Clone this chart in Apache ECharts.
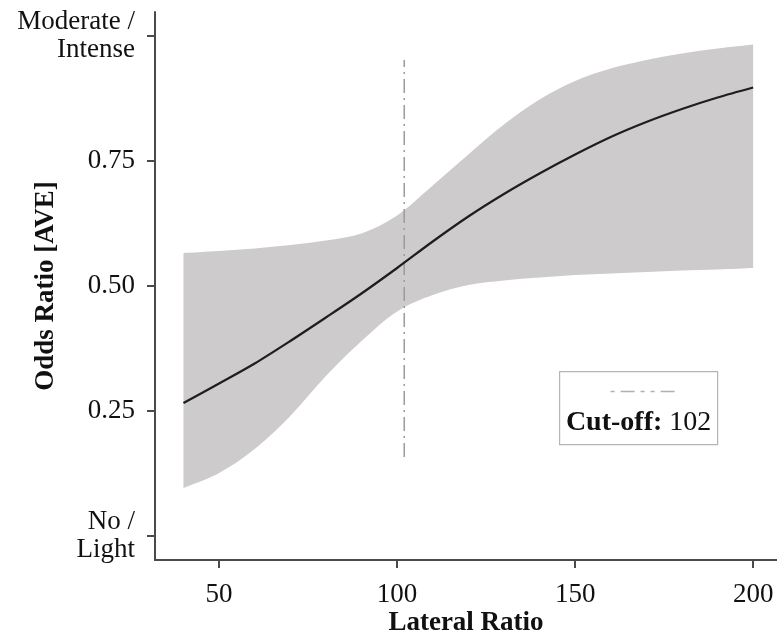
<!DOCTYPE html>
<html>
<head>
<meta charset="utf-8">
<script src="https://cdn.jsdelivr.net/npm/echarts@6/dist/echarts.min.js"></script>
<style>
  html, body { margin: 0; padding: 0; background: #fff; }
  #main { width: 777px; height: 636px; }
</style>
</head>
<body>
<div id="main"></div>
<script>
// data
var lateralRatio = [40, 50, 60, 70, 80, 90, 100, 110, 120, 130, 140, 150, 160, 170, 180, 190, 200];
var oddsRatio    = [0.265, 0.304, 0.344, 0.389, 0.436, 0.484, 0.535, 0.588, 0.638, 0.683, 0.724, 0.762, 0.797, 0.827, 0.853, 0.876, 0.896];
var upperBand    = [0.565, 0.569, 0.574, 0.581, 0.590, 0.604, 0.640, 0.700, 0.762, 0.822, 0.872, 0.909, 0.934, 0.951, 0.964, 0.974, 0.982];
var lowerBand    = [0.095, 0.125, 0.173, 0.239, 0.319, 0.389, 0.448, 0.481, 0.501, 0.510, 0.516, 0.521, 0.524, 0.527, 0.530, 0.532, 0.535];
var cutoff = 102;
var cutoffSpan = [0.157, 0.951];
var xTicks = [50, 100, 150, 200];
var yTicks = [0, 0.25, 0.5, 0.75, 1];
var yTickLabels = ['No /\nLight', '0.25', '0.50', '0.75', 'Moderate /\nIntense'];

var FONT = '"Liberation Serif", "DejaVu Serif", serif';
var AXIS_COLOR = '#4a4a4a';

var myChart = echarts.init(document.getElementById('main'));

var curveData = lateralRatio.map(function (x, i) { return [x, oddsRatio[i]]; });
var cutoffData = cutoffSpan.map(function (y) { return [cutoff, y]; });

// smooth path through pixel points (catmull-rom -> bezier), drawing only
function smoothPath(pts, moveFirst) {
  var d = (moveFirst ? 'M' : 'L') + pts[0][0] + ' ' + pts[0][1];
  for (var i = 0; i < pts.length - 1; i++) {
    var p0 = pts[i - 1] || pts[i];
    var p1 = pts[i];
    var p2 = pts[i + 1];
    var p3 = pts[i + 2] || p2;
    var c1x = p1[0] + (p2[0] - p0[0]) / 6, c1y = p1[1] + (p2[1] - p0[1]) / 6;
    var c2x = p2[0] - (p3[0] - p1[0]) / 6, c2y = p2[1] - (p3[1] - p1[1]) / 6;
    d += ' C' + c1x + ' ' + c1y + ' ' + c2x + ' ' + c2y + ' ' + p2[0] + ' ' + p2[1];
  }
  return d;
}

var option = {
  backgroundColor: '#fff',
  animation: false,
  grid: { left: 155, right: 0, top: 12, bottom: 76, outerBoundsMode: 'none' },
  xAxis: {
    type: 'value',
    min: 32,
    max: 206.7,
    name: 'Lateral Ratio',
    nameLocation: 'middle',
    nameGap: 50,
    nameMoveOverlap: false,
    nameTextStyle: { fontFamily: FONT, fontSize: 27, fontWeight: 'bold', color: '#111' },
    axisLine: { show: true, onZero: false, lineStyle: { color: AXIS_COLOR, width: 2 } },
    axisTick: { show: true, length: 8, customValues: xTicks, lineStyle: { color: AXIS_COLOR, width: 2 } },
    axisLabel: {
      customValues: xTicks,
      margin: 21,
      fontFamily: FONT, fontSize: 27, color: '#111'
    },
    splitLine: { show: false }
  },
  yAxis: {
    type: 'value',
    min: -0.049,
    max: 1.047,
    name: 'Odds Ratio [AVE]',
    nameLocation: 'middle',
    nameGap: 95,
    nameRotate: 90,
    nameMoveOverlap: false,
    nameTextStyle: { fontFamily: FONT, fontSize: 27, fontWeight: 'bold', color: '#111' },
    axisLine: { show: true, onZero: false, lineStyle: { color: AXIS_COLOR, width: 2 } },
    axisTick: { show: true, length: 8, customValues: yTicks, lineStyle: { color: AXIS_COLOR, width: 2 } },
    axisLabel: {
      customValues: yTicks,
      margin: 20,
      fontFamily: FONT, fontSize: 27, color: '#111', lineHeight: 28, align: 'right',
      formatter: function (v) {
        var i = yTicks.indexOf(v);
        return i >= 0 ? yTickLabels[i] : '';
      }
    },
    splitLine: { show: false }
  },
  series: [
    {
      // confidence band
      type: 'custom',
      data: [0],
      silent: true,
      z: 1,
      renderItem: function (params, api) {
        var up = [], low = [];
        for (var i = 0; i < lateralRatio.length; i++) {
          up.push(api.coord([lateralRatio[i], upperBand[i]]));
          low.push(api.coord([lateralRatio[i], lowerBand[i]]));
        }
        low.reverse();
        var d = smoothPath(up, true) + ' ' + smoothPath(low, false) + ' Z';
        return {
          type: 'path',
          shape: { pathData: d },
          style: { fill: '#cdcbcc', stroke: null }
        };
      }
    },
    {
      type: 'line',
      data: cutoffData,
      symbol: 'none',
      z: 2,
      lineStyle: { color: '#9c9c9c', width: 1.5, type: [14, 5, 2, 5] }
    },
    {
      type: 'line',
      data: curveData,
      smooth: 0.3,
      symbol: 'none',
      z: 3,
      lineStyle: { color: '#1e1e1e', width: 2.2 }
    }
  ],
  graphic: [
    {
      type: 'group',
      left: 559,
      top: 371,
      z: 10,
      children: [
        {
          type: 'rect',
          shape: { x: 0, y: 0, width: 158, height: 73 },
          style: { fill: '#fff', stroke: '#b5b5b5', lineWidth: 1.2 }
        },
        {
          type: 'line',
          shape: { x1: 51, y1: 20, x2: 118, y2: 20 },
          style: { stroke: '#b0b0b0', lineWidth: 1.5, lineDash: [4, 6, 14, 6, 4, 6] }
        },
        {
          type: 'text',
          x: 79,
          y: 51,
          style: {
            text: '{b|Cut-off:} 102',
            fontFamily: FONT,
            fontSize: 28,
            fill: '#111',
            align: 'center',
            verticalAlign: 'middle',
            rich: { b: { fontFamily: FONT, fontSize: 28, fontWeight: 'bold', fill: '#111' } }
          }
        }
      ]
    }
  ]
};

option && myChart.setOption(option);
</script>
</body>
</html>
